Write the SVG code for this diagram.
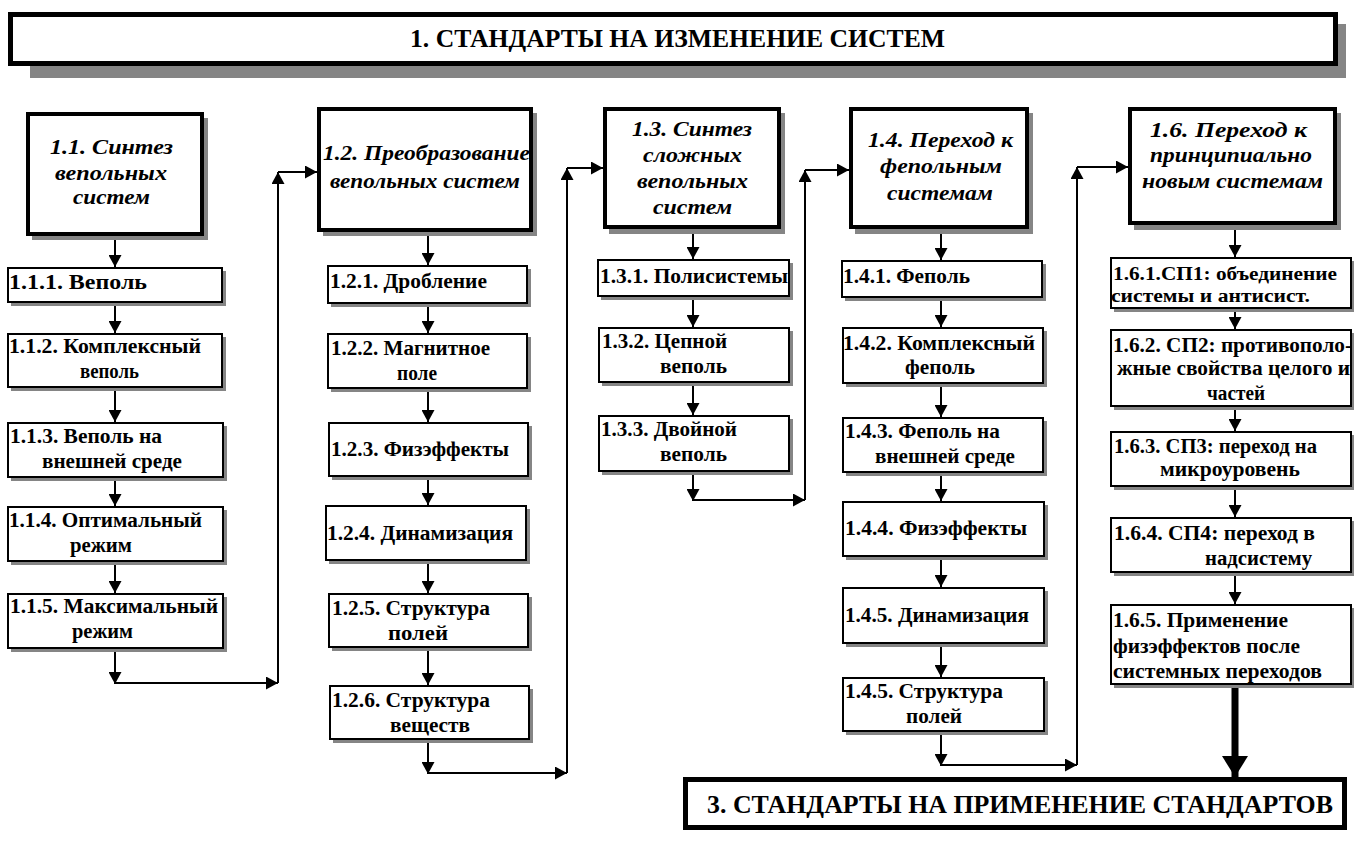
<svg xmlns="http://www.w3.org/2000/svg" width="1354" height="844" viewBox="0 0 1354 844">
<style>
.sh{fill:#858585;stroke:none}
.bx{fill:#fff;stroke:#000;stroke-width:2}
.hd{fill:#fff;stroke:#000;stroke-width:4}
.big{fill:#fff;stroke:#000;stroke-width:5}
.t{font-family:"Liberation Serif","Times New Roman",serif;font-weight:bold;font-size:20px;fill:#000}
.s{font-size:18px}
.h{font-family:"Liberation Serif","Times New Roman",serif;font-weight:bold;font-style:italic;font-size:22px;fill:#000}
.tt{font-family:"Liberation Serif","Times New Roman",serif;font-weight:bold;font-size:26px;fill:#000}
.c{fill:none;stroke:#000;stroke-width:2;marker-end:url(#ah)}
.ct{fill:none;stroke:#000;stroke-width:7;marker-end:url(#ahb)}
</style>
<defs>
<marker id="ah" markerUnits="userSpaceOnUse" markerWidth="13" markerHeight="13" refX="12" refY="6.5" orient="auto"><path d="M0,0 L12,6.5 L0,13 z" fill="#000"/></marker>
<marker id="ahb" markerUnits="userSpaceOnUse" markerWidth="22" markerHeight="26" refX="21" refY="13" orient="auto"><path d="M0,0 L21,13 L0,26 z" fill="#000"/></marker>
</defs>
<rect width="1354" height="844" fill="#fff"/>

<g id="title">
<rect class="sh" x="30" y="24" width="1316" height="54"/>
<rect class="big" x="10.5" y="14.5" width="1325" height="49"/>
<text class="tt" x="410" y="47" textLength="535" lengthAdjust="spacingAndGlyphs">1. СТАНДАРТЫ НА ИЗМЕНЕНИЕ СИСТЕМ</text>
</g>

<g id="connectors">
<line class="c" x1="115" y1="236" x2="115" y2="267"/>
<line class="c" x1="115" y1="302" x2="115" y2="333"/>
<line class="c" x1="115" y1="387" x2="115" y2="422"/>
<line class="c" x1="115" y1="477" x2="115" y2="506"/>
<line class="c" x1="115" y1="561" x2="115" y2="593"/>
<line class="c" x1="115" y1="648" x2="115" y2="684"/>
<line class="c" x1="115" y1="683" x2="278" y2="683"/>
<line class="c" x1="278" y1="683" x2="278" y2="172"/>
<line class="c" x1="278" y1="172" x2="317" y2="172"/>

<line class="c" x1="428" y1="232" x2="428" y2="265"/>
<line class="c" x1="428" y1="303" x2="428" y2="333"/>
<line class="c" x1="428" y1="388" x2="428" y2="422"/>
<line class="c" x1="428" y1="476" x2="428" y2="505"/>
<line class="c" x1="428" y1="560" x2="428" y2="593"/>
<line class="c" x1="428" y1="647" x2="428" y2="685"/>
<line class="c" x1="428" y1="739" x2="428" y2="774"/>
<line class="c" x1="428" y1="773" x2="567" y2="773"/>
<line class="c" x1="567" y1="773" x2="567" y2="168"/>
<line class="c" x1="567" y1="168" x2="603" y2="168"/>

<line class="c" x1="693" y1="229" x2="693" y2="259"/>
<line class="c" x1="693" y1="296" x2="693" y2="327"/>
<line class="c" x1="693" y1="382" x2="693" y2="415"/>
<line class="c" x1="693" y1="471" x2="693" y2="501"/>
<line class="c" x1="693" y1="500" x2="805" y2="500"/>
<line class="c" x1="805" y1="500" x2="805" y2="170"/>
<line class="c" x1="805" y1="170" x2="849" y2="170"/>

<line class="c" x1="941" y1="229" x2="941" y2="260"/>
<line class="c" x1="941" y1="297" x2="941" y2="327"/>
<line class="c" x1="941" y1="383" x2="941" y2="417"/>
<line class="c" x1="941" y1="472" x2="941" y2="501"/>
<line class="c" x1="941" y1="556" x2="941" y2="587"/>
<line class="c" x1="941" y1="643" x2="941" y2="677"/>
<line class="c" x1="941" y1="731" x2="941" y2="766"/>
<line class="c" x1="941" y1="765" x2="1077" y2="765"/>
<line class="c" x1="1077" y1="765" x2="1077" y2="167"/>
<line class="c" x1="1077" y1="167" x2="1128" y2="167"/>

<line class="c" x1="1235" y1="225" x2="1235" y2="257"/>
<line class="c" x1="1235" y1="308" x2="1235" y2="329"/>
<line class="c" x1="1235" y1="406" x2="1235" y2="431"/>
<line class="c" x1="1235" y1="486" x2="1235" y2="517"/>
<line class="c" x1="1235" y1="572" x2="1235" y2="604"/>
<line class="ct" x1="1235" y1="684" x2="1235" y2="777"/>
</g>

<g id="n1_1">
<rect class="sh" x="32" y="118" width="176" height="122"/>
<rect class="hd" x="28" y="114" width="174" height="120"/>
<text class="h" x="50" y="154" textLength="123" lengthAdjust="spacingAndGlyphs">1.1. Синтез</text>
<text class="h" x="55" y="180" textLength="112" lengthAdjust="spacingAndGlyphs">вепольных</text>
<text class="h" x="73" y="204" textLength="77" lengthAdjust="spacingAndGlyphs">систем</text>
</g>
<g id="n1_1_1">
<rect class="sh" x="11" y="271" width="215" height="35"/>
<rect class="bx" x="8" y="268" width="214" height="34"/>
<text class="t" x="9" y="289" textLength="138" lengthAdjust="spacingAndGlyphs">1.1.1. Веполь</text>
</g>
<g id="n1_1_2">
<rect class="sh" x="11" y="337" width="215" height="54"/>
<rect class="bx" x="8" y="334" width="214" height="53"/>
<text class="t" x="9" y="353" textLength="192" lengthAdjust="spacingAndGlyphs">1.1.2. Комплексный</text>
<text class="t" x="80" y="378" textLength="59" lengthAdjust="spacingAndGlyphs">веполь</text>
</g>
<g id="n1_1_3">
<rect class="sh" x="11" y="426" width="216" height="55"/>
<rect class="bx" x="8" y="423" width="215" height="54"/>
<text class="t" x="10" y="443" textLength="152" lengthAdjust="spacingAndGlyphs">1.1.3. Веполь на</text>
<text class="t" x="42" y="468" textLength="140" lengthAdjust="spacingAndGlyphs">внешней среде</text>
</g>
<g id="n1_1_4">
<rect class="sh" x="11" y="510" width="216" height="55"/>
<rect class="bx" x="8" y="507" width="215" height="54"/>
<text class="t" x="9" y="527" textLength="193" lengthAdjust="spacingAndGlyphs">1.1.4. Оптимальный</text>
<text class="t" x="70" y="552" textLength="62" lengthAdjust="spacingAndGlyphs">режим</text>
</g>
<g id="n1_1_5">
<rect class="sh" x="11" y="597" width="216" height="55"/>
<rect class="bx" x="8" y="594" width="215" height="54"/>
<text class="t" x="10" y="613" textLength="208" lengthAdjust="spacingAndGlyphs">1.1.5. Максимальный</text>
<text class="t" x="72" y="638" textLength="61" lengthAdjust="spacingAndGlyphs">режим</text>
</g>

<g id="n1_2">
<rect class="sh" x="323" y="113" width="214" height="123"/>
<rect class="hd" x="319" y="109" width="212" height="121"/>
<text class="h" x="323" y="160" textLength="207" lengthAdjust="spacingAndGlyphs">1.2. Преобразование</text>
<text class="h" x="330" y="188" textLength="190" lengthAdjust="spacingAndGlyphs">вепольных систем</text>
</g>
<g id="n1_2_1">
<rect class="sh" x="331" y="269" width="200" height="38"/>
<rect class="bx" x="328" y="266" width="199" height="37"/>
<text class="t" x="330" y="288" textLength="157" lengthAdjust="spacingAndGlyphs">1.2.1. Дробление</text>
</g>
<g id="n1_2_2">
<rect class="sh" x="331" y="337" width="200" height="55"/>
<rect class="bx" x="328" y="334" width="199" height="54"/>
<text class="t" x="331" y="355" textLength="159" lengthAdjust="spacingAndGlyphs">1.2.2. Магнитное</text>
<text class="t" x="397" y="380" textLength="40" lengthAdjust="spacingAndGlyphs">поле</text>
</g>
<g id="n1_2_3">
<rect class="sh" x="332" y="426" width="200" height="54"/>
<rect class="bx" x="329" y="423" width="199" height="53"/>
<text class="t" x="331" y="456" textLength="178" lengthAdjust="spacingAndGlyphs">1.2.3. Физэффекты</text>
</g>
<g id="n1_2_4">
<rect class="sh" x="329" y="509" width="201" height="55"/>
<rect class="bx" x="326" y="506" width="200" height="54"/>
<text class="t" x="327" y="540" textLength="186" lengthAdjust="spacingAndGlyphs">1.2.4. Динамизация</text>
</g>
<g id="n1_2_5">
<rect class="sh" x="332" y="597" width="200" height="54"/>
<rect class="bx" x="329" y="594" width="199" height="53"/>
<text class="t" x="332" y="615" textLength="158" lengthAdjust="spacingAndGlyphs">1.2.5. Структура</text>
<text class="t" x="388" y="640" textLength="60" lengthAdjust="spacingAndGlyphs">полей</text>
</g>
<g id="n1_2_6">
<rect class="sh" x="333" y="689" width="200" height="54"/>
<rect class="bx" x="330" y="686" width="199" height="53"/>
<text class="t" x="332" y="707" textLength="158" lengthAdjust="spacingAndGlyphs">1.2.6. Структура</text>
<text class="t" x="390" y="732" textLength="80" lengthAdjust="spacingAndGlyphs">веществ</text>
</g>

<g id="n1_3">
<rect class="sh" x="609" y="113" width="176" height="121"/>
<rect class="hd" x="605" y="109" width="174" height="118"/>
<text class="h" x="632" y="136" textLength="120" lengthAdjust="spacingAndGlyphs">1.3. Синтез</text>
<text class="h" x="643" y="162" textLength="99" lengthAdjust="spacingAndGlyphs">сложных</text>
<text class="h" x="637" y="188" textLength="111" lengthAdjust="spacingAndGlyphs">вепольных</text>
<text class="h" x="653" y="214" textLength="79" lengthAdjust="spacingAndGlyphs">систем</text>
</g>
<g id="n1_3_1">
<rect class="sh" x="601" y="263" width="192" height="37"/>
<rect class="bx" x="598" y="260" width="191" height="36"/>
<text class="t" x="600" y="283" textLength="188" lengthAdjust="spacingAndGlyphs">1.3.1. Полисистемы</text>
</g>
<g id="n1_3_2">
<rect class="sh" x="602" y="331" width="191" height="55"/>
<rect class="bx" x="599" y="328" width="190" height="54"/>
<text class="t" x="602" y="348" textLength="125" lengthAdjust="spacingAndGlyphs">1.3.2. Цепной</text>
<text class="t" x="660" y="373" textLength="67" lengthAdjust="spacingAndGlyphs">веполь</text>
</g>
<g id="n1_3_3">
<rect class="sh" x="602" y="419" width="191" height="56"/>
<rect class="bx" x="599" y="416" width="190" height="55"/>
<text class="t" x="601" y="436" textLength="136" lengthAdjust="spacingAndGlyphs">1.3.3. Двойной</text>
<text class="t" x="660" y="461" textLength="67" lengthAdjust="spacingAndGlyphs">веполь</text>
</g>

<g id="n1_4">
<rect class="sh" x="855" y="113" width="178" height="121"/>
<rect class="hd" x="851" y="109" width="176" height="118"/>
<text class="h" x="868" y="147" textLength="145" lengthAdjust="spacingAndGlyphs">1.4. Переход к</text>
<text class="h" x="880" y="173" textLength="122" lengthAdjust="spacingAndGlyphs">фепольным</text>
<text class="h" x="887" y="200" textLength="106" lengthAdjust="spacingAndGlyphs">системам</text>
</g>
<g id="n1_4_1">
<rect class="sh" x="845" y="264" width="201" height="37"/>
<rect class="bx" x="842" y="261" width="200" height="36"/>
<text class="t" x="843" y="283" textLength="127" lengthAdjust="spacingAndGlyphs">1.4.1. Феполь</text>
</g>
<g id="n1_4_2">
<rect class="sh" x="846" y="331" width="201" height="56"/>
<rect class="bx" x="843" y="328" width="200" height="55"/>
<text class="t" x="843" y="350" textLength="192" lengthAdjust="spacingAndGlyphs">1.4.2. Комплексный</text>
<text class="t" x="905" y="374" textLength="70" lengthAdjust="spacingAndGlyphs">феполь</text>
</g>
<g id="n1_4_3">
<rect class="sh" x="846" y="421" width="201" height="55"/>
<rect class="bx" x="843" y="418" width="200" height="54"/>
<text class="t" x="845" y="438" textLength="155" lengthAdjust="spacingAndGlyphs">1.4.3. Феполь на</text>
<text class="t" x="875" y="463" textLength="140" lengthAdjust="spacingAndGlyphs">внешней среде</text>
</g>
<g id="n1_4_4">
<rect class="sh" x="846" y="505" width="202" height="55"/>
<rect class="bx" x="843" y="502" width="201" height="54"/>
<text class="t" x="845" y="535" textLength="182" lengthAdjust="spacingAndGlyphs">1.4.4. Физэффекты</text>
</g>
<g id="n1_4_5">
<rect class="sh" x="846" y="591" width="202" height="56"/>
<rect class="bx" x="843" y="588" width="201" height="55"/>
<text class="t" x="845" y="622" textLength="184" lengthAdjust="spacingAndGlyphs">1.4.5. Динамизация</text>
</g>
<g id="n1_4_6">
<rect class="sh" x="846" y="681" width="202" height="54"/>
<rect class="bx" x="843" y="678" width="201" height="53"/>
<text class="t" x="845" y="698" textLength="158" lengthAdjust="spacingAndGlyphs">1.4.5. Структура</text>
<text class="t" x="906" y="723" textLength="56" lengthAdjust="spacingAndGlyphs">полей</text>
</g>

<g id="n1_6">
<rect class="sh" x="1134" y="113" width="207" height="117"/>
<rect class="hd" x="1130" y="109" width="205" height="114"/>
<text class="h" x="1150" y="137" textLength="157" lengthAdjust="spacingAndGlyphs">1.6. Переход к</text>
<text class="h" x="1150" y="162" textLength="162" lengthAdjust="spacingAndGlyphs">принципиально</text>
<text class="h" x="1142" y="188" textLength="181" lengthAdjust="spacingAndGlyphs">новым системам</text>
</g>
<g id="n1_6_1">
<rect class="sh" x="1114" y="261" width="240" height="51"/>
<rect class="bx" x="1111" y="258" width="240" height="50"/>
<text class="t s" x="1113" y="280" textLength="224" lengthAdjust="spacingAndGlyphs">1.6.1.СП1: объединение</text>
<text class="t s" x="1111" y="302" textLength="199" lengthAdjust="spacingAndGlyphs">системы и антисист.</text>
</g>
<g id="n1_6_2">
<rect class="sh" x="1114" y="333" width="240" height="77"/>
<rect class="bx" x="1111" y="330" width="240" height="76"/>
<text class="t" x="1113" y="352" textLength="239" lengthAdjust="spacingAndGlyphs">1.6.2. СП2: противополо-</text>
<text class="t" x="1117" y="375" textLength="233" lengthAdjust="spacingAndGlyphs">жные свойства целого и</text>
<text class="t" x="1207" y="400" textLength="58" lengthAdjust="spacingAndGlyphs">частей</text>
</g>
<g id="n1_6_3">
<rect class="sh" x="1114" y="435" width="240" height="55"/>
<rect class="bx" x="1111" y="432" width="240" height="54"/>
<text class="t" x="1114" y="453" textLength="203" lengthAdjust="spacingAndGlyphs">1.6.3. СП3: переход на</text>
<text class="t" x="1160" y="476" textLength="140" lengthAdjust="spacingAndGlyphs">микроуровень</text>
</g>
<g id="n1_6_4">
<rect class="sh" x="1114" y="521" width="240" height="55"/>
<rect class="bx" x="1111" y="518" width="240" height="54"/>
<text class="t" x="1114" y="540" textLength="201" lengthAdjust="spacingAndGlyphs">1.6.4. СП4: переход в</text>
<text class="t" x="1205" y="565" textLength="107" lengthAdjust="spacingAndGlyphs">надсистему</text>
</g>
<g id="n1_6_5">
<rect class="sh" x="1114" y="608" width="240" height="80"/>
<rect class="bx" x="1111" y="605" width="240" height="79"/>
<text class="t" x="1113" y="627" textLength="175" lengthAdjust="spacingAndGlyphs">1.6.5. Применение</text>
<text class="t" x="1113" y="653" textLength="187" lengthAdjust="spacingAndGlyphs">физэффектов после</text>
<text class="t" x="1113" y="678" textLength="209" lengthAdjust="spacingAndGlyphs">системных переходов</text>
</g>

<g id="n3">
<rect class="big" x="685.5" y="779.5" width="659" height="48"/>
<text class="tt" x="707" y="813" textLength="626" lengthAdjust="spacingAndGlyphs">3. СТАНДАРТЫ НА ПРИМЕНЕНИЕ СТАНДАРТОВ</text>
</g>
</svg>
